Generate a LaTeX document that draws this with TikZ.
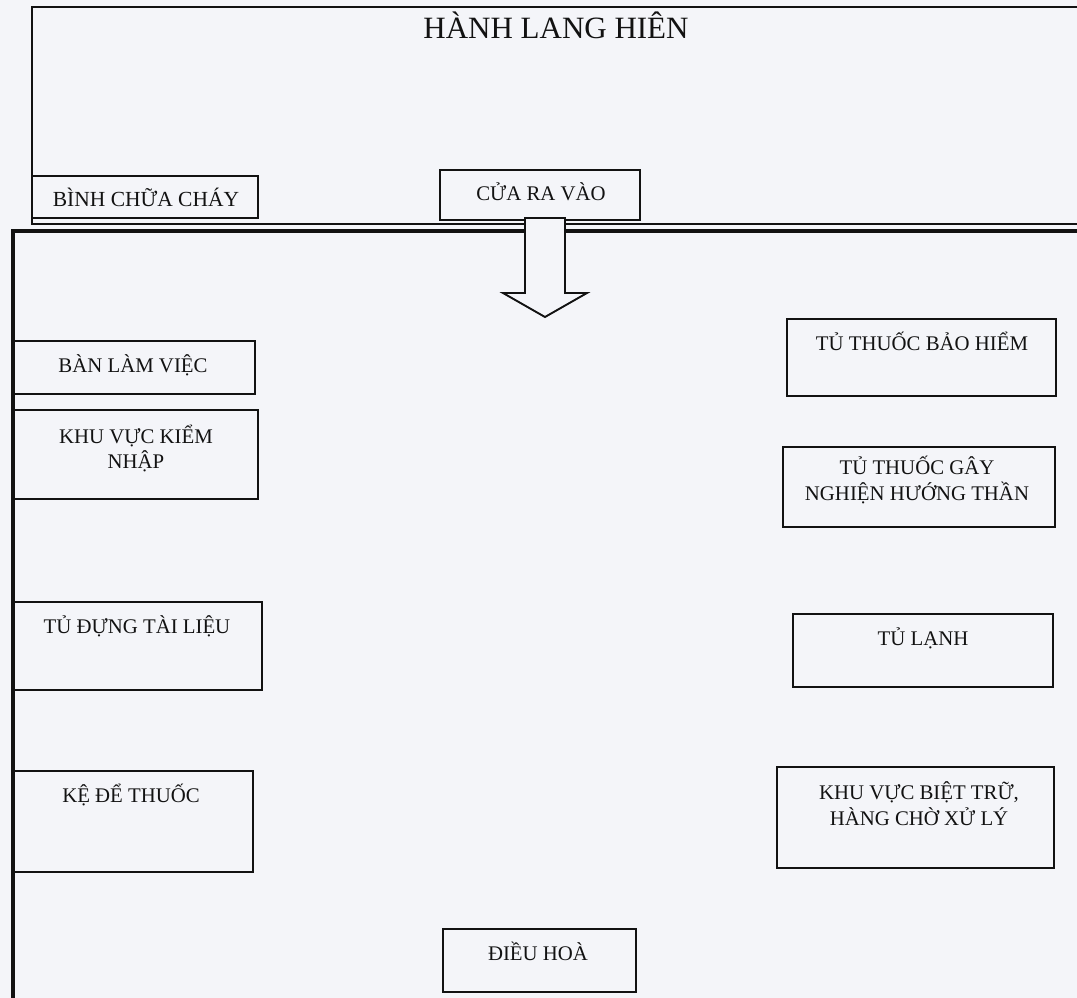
\documentclass[tikz,border=0pt]{standalone}
\usepackage{fontspec}
\setmainfont{Liberation Serif}
\definecolor{paper}{RGB}{244,245,249}
\definecolor{ink}{RGB}{18,18,18}
\tikzset{
  furnbox/.style={draw=ink, line width=1.9pt, fill=paper, inner sep=0pt, outer sep=0pt},
  lbl/.style={inner sep=0pt, anchor=base, text=ink, font=\fontsize{20.8}{23}\selectfont},
  biglbl/.style={inner sep=0pt, anchor=base, text=ink, font=\fontsize{31}{34}\selectfont},
  hallwall/.style={draw=ink, line width=1.6pt},
  roomwall/.style={draw=ink, line width=4pt},
  doorarrow/.style={draw=ink, line width=1.9pt, fill=paper, line join=miter}
}
\newcommand\furn[5]{%
  \node[furnbox, minimum width={(#4)-(#2)}, minimum height={(#5)-(#3)}] (#1) at ({((#2)+(#4))/2},{((#3)+(#5))/2}) {};}
\begin{document}
\begin{tikzpicture}[x=1pt,y=-1pt]
\useasboundingbox (0,0) rectangle (1077,998);
\clip (0,0) rectangle (1077,998);
\fill[paper] (0,0) rectangle (1077,998);
% hallway
\draw[hallwall] (1090,7) -- (32,7) -- (32,224) -- (1090,224);
\node[biglbl] (hall) at (556,39) {HÀNH LANG HIÊN};
% room walls
\draw[roomwall] (13,1010) -- (13,231) -- (1090,231);
% boxes
\furn{binh}{32}{176}{258}{218}
\furn{cua}{440}{170}{640}{220}
\furn{ban}{13}{341}{255}{394}
\furn{kiem}{13}{410}{258}{499}
\furn{tudung}{13}{602}{262}{690}
\furn{ke}{13}{771}{253}{872}
\furn{baohiem}{787}{319}{1056}{396}
\furn{gaynghien}{783}{447}{1055}{527}
\furn{tulanh}{793}{614}{1053}{687}
\furn{bietru}{777}{767}{1054}{868}
\furn{dieuhoa}{443}{929}{636}{992}
% re-draw left wall over boxes
\draw[roomwall] (13,1010) -- (13,231);
% door arrow
\draw[doorarrow] (cua.south) ++(-15,-2) -- ++(40,0) -- ++(0,75) -- ++(22,0) -- ++(-42,24) -- ++(-42,-24) -- ++(22,0) -- cycle;
% labels
\node[lbl, font=\fontsize{21.5}{23}\selectfont] (tbinh) at (146,206) {BÌNH CHỮA CHÁY};
\node[lbl] (tcua) at (541,200) {CỬA RA VÀO};
\node[lbl] (tban) at (133,372) {BÀN LÀM VIỆC};
\node[lbl] (tkiem1) at (136,443) {KHU VỰC KIỂM};
\node[lbl] (tkiem2) at (136,468) {NHẬP};
\node[lbl] (ttudung) at (137,633) {TỦ ĐỰNG TÀI LIỆU};
\node[lbl] (tke) at (131,802) {KỆ ĐỂ THUỐC};
\node[lbl] (tbaohiem) at (922,350) {TỦ THUỐC BẢO HIỂM};
\node[lbl] (tgay1) at (917,474) {TỦ THUỐC GÂY};
\node[lbl] (tgay2) at (917,500) {NGHIỆN HƯỚNG THẦN};
\node[lbl] (ttulanh) at (923,645) {TỦ LẠNH};
\node[lbl] (tbiet1) at (919,799) {KHU VỰC BIỆT TRỮ,};
\node[lbl] (tbiet2) at (919,825) {HÀNG CHỜ XỬ LÝ};
\node[lbl] (tdieu) at (538,960) {ĐIỀU HOÀ};
\end{tikzpicture}
\end{document}
